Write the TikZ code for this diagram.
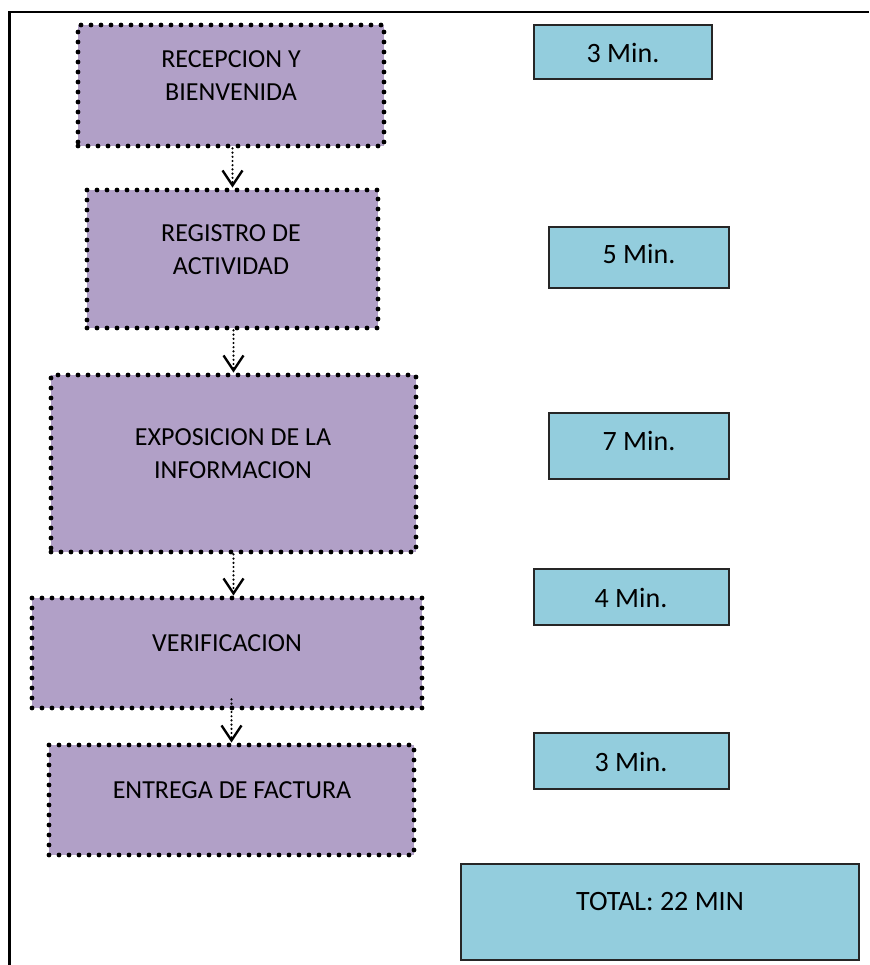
\documentclass[tikz,border=0pt]{standalone}
\usepackage{fontspec}
\setmainfont{Carlito}
\usetikzlibrary{arrows.meta,calc}
\definecolor{stepfill}{HTML}{B1A0C7}
\definecolor{timefill}{HTML}{93CDDD}
\begin{document}
\begin{tikzpicture}[x=1pt,y=-1pt,
  stepbox/.style={draw=black, fill=stepfill, line width=4.8pt,
    dash pattern=on 0pt off 10pt, line cap=round, inner sep=0pt},
  timebox/.style={draw=black!85, fill=timefill, line width=1.3pt, inner sep=0pt},
  steptext/.style={font=\fontsize{26}{33}\selectfont, align=center, inner sep=0pt},
  timetext/.style={font=\fontsize{28}{33}\selectfont, inner sep=0pt},
  flow/.style={line width=2.4pt, dash pattern=on 0pt off 4.2pt, line cap=round,
    -{Straight Barb[length=15pt,width=20pt,line width=2.4pt]}}]
\useasboundingbox (0,0) rectangle (869,965);
% page frame
\draw[line width=2.6pt] (9.5,965) -- (9.5,12) -- (869,12);

% process steps
\node[stepbox, minimum width=306pt, minimum height=121pt] (s1) at (231,85.5) {};
\node[stepbox, minimum width=291pt, minimum height=138pt] (s2) at (232.5,259) {};
\node[stepbox, minimum width=365pt, minimum height=177pt] (s3) at (233.5,463.5) {};
\node[stepbox, minimum width=390pt, minimum height=110pt] (s4) at (227,653) {};
\node[stepbox, minimum width=365pt, minimum height=110pt] (s5) at (231.5,800) {};

\node[steptext] (t1) at (231,76) {RECEPCION Y\\BIENVENIDA};
\node[steptext] (t2) at (231,250) {REGISTRO DE\\ACTIVIDAD};
\node[steptext] (t3) at (233,453.5) {EXPOSICION DE LA\\INFORMACION};
\node[steptext] (t4) at (227,643) {VERIFICACION};
\node[steptext] (t5) at (232,790) {ENTREGA DE FACTURA};

% durations
\node[timebox, minimum width=178pt, minimum height=54pt] (d1) at (623,52) {};
\node[timebox, minimum width=180pt, minimum height=61pt] (d2) at (639,257.5) {};
\node[timebox, minimum width=180pt, minimum height=66pt] (d3) at (639,446) {};
\node[timebox, minimum width=195pt, minimum height=56pt] (d4) at (631.5,597) {};
\node[timebox, minimum width=195pt, minimum height=56pt] (d5) at (631.5,761) {};
\node[timebox, minimum width=398pt, minimum height=96pt] (dt) at (660,912) {};

\node[timetext] (m1) at (623,53) {3 Min.};
\node[timetext] (m2) at (639,254) {5 Min.};
\node[timetext] (m3) at (639,441) {7 Min.};
\node[timetext] (m4) at (631,598) {4 Min.};
\node[timetext] (m5) at (631,762) {3 Min.};
\node[timetext] (mt) at (660,902) {TOTAL: 22 MIN};

% connectors
\coordinate (c4) at ($(s4.south -| s5.north)+(0,-11)$);
\draw[flow] (s1.south -| s2.north) -- (s2.north);
\draw[flow] (s2.south -| s3.north) -- (s3.north);
\draw[flow] (s3.south) -- (s3.south |- s4.north);
\draw[flow] (c4) -- (s5.north);
\end{tikzpicture}
\end{document}
